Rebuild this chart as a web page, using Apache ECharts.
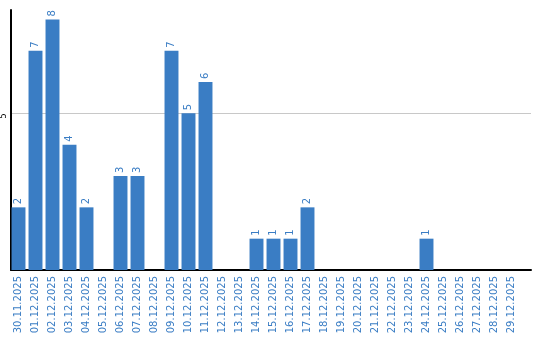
<!DOCTYPE html>
<html><head><meta charset="utf-8">
<script src="https://cdn.jsdelivr.net/npm/echarts@6/dist/echarts.min.js"></script>
<style>html,body{margin:0;padding:0;background:#fff}#c{width:540px;height:340px}</style>
</head><body><div id="c"></div>
<script>
const categories = ["30.11.2025","01.12.2025","02.12.2025","03.12.2025","04.12.2025","05.12.2025","06.12.2025","07.12.2025","08.12.2025","09.12.2025","10.12.2025","11.12.2025","12.12.2025","13.12.2025","14.12.2025","15.12.2025","16.12.2025","17.12.2025","18.12.2025","19.12.2025","20.12.2025","21.12.2025","22.12.2025","23.12.2025","24.12.2025","25.12.2025","26.12.2025","27.12.2025","28.12.2025","29.12.2025"];
const values = [2,7,8,4,2,0,3,3,0,7,5,6,0,0,1,1,1,2,0,0,0,0,0,0,1,0,0,0,0,0];
const yTicks = [5];
const yMax = 8.3;
const blue = '#3a7dc4';
const chart = echarts.init(document.getElementById('c'));
chart.setOption({
  animation:false,
  grid:[{left:10,right:9,top:10,bottom:70},{left:10,right:20,top:10,bottom:70}],
  xAxis:[
    {type:'value',gridIndex:0,min:0,max:1,axisLine:{show:true,lineStyle:{color:'#000',width:2}},
     axisTick:{show:false},axisLabel:{show:false},splitLine:{show:false}},
    {type:'category',gridIndex:1,data:categories,
    axisLine:{show:false},axisTick:{show:false},
    axisLabel:{rotate:90,interval:0,color:blue,fontFamily:'DejaVu Sans',fontSize:10,margin:6}}],
  yAxis:[
    {type:'value',gridIndex:0,min:0,max:yMax,interval:5,
    axisLine:{show:true,lineStyle:{color:'#000',width:2}},axisTick:{show:false},
    splitLine:{show:true,showMinLine:false,showMaxLine:false,lineStyle:{color:'#c8c8c8',width:1}},
    axisLabel:{rotate:90,color:'#000',fontFamily:'DejaVu Sans',fontSize:8,margin:3,padding:[0,5,0,0],
      formatter:v=>yTicks.includes(v)?String(v):''}},
    {type:'value',gridIndex:1,min:0,max:yMax,axisLine:{show:false},axisTick:{show:false},
     axisLabel:{show:false},splitLine:{show:false}}],
  series:[{type:'bar',xAxisIndex:1,yAxisIndex:1,data:values.map(v=>v===0?null:v),barCategoryGap:'18%',
    itemStyle:{color:blue},
    label:{show:true,position:'top',rotate:90,align:'left',verticalAlign:'middle',distance:3,
      color:blue,fontFamily:'DejaVu Sans',fontSize:10}}]
});
</script></body></html>
